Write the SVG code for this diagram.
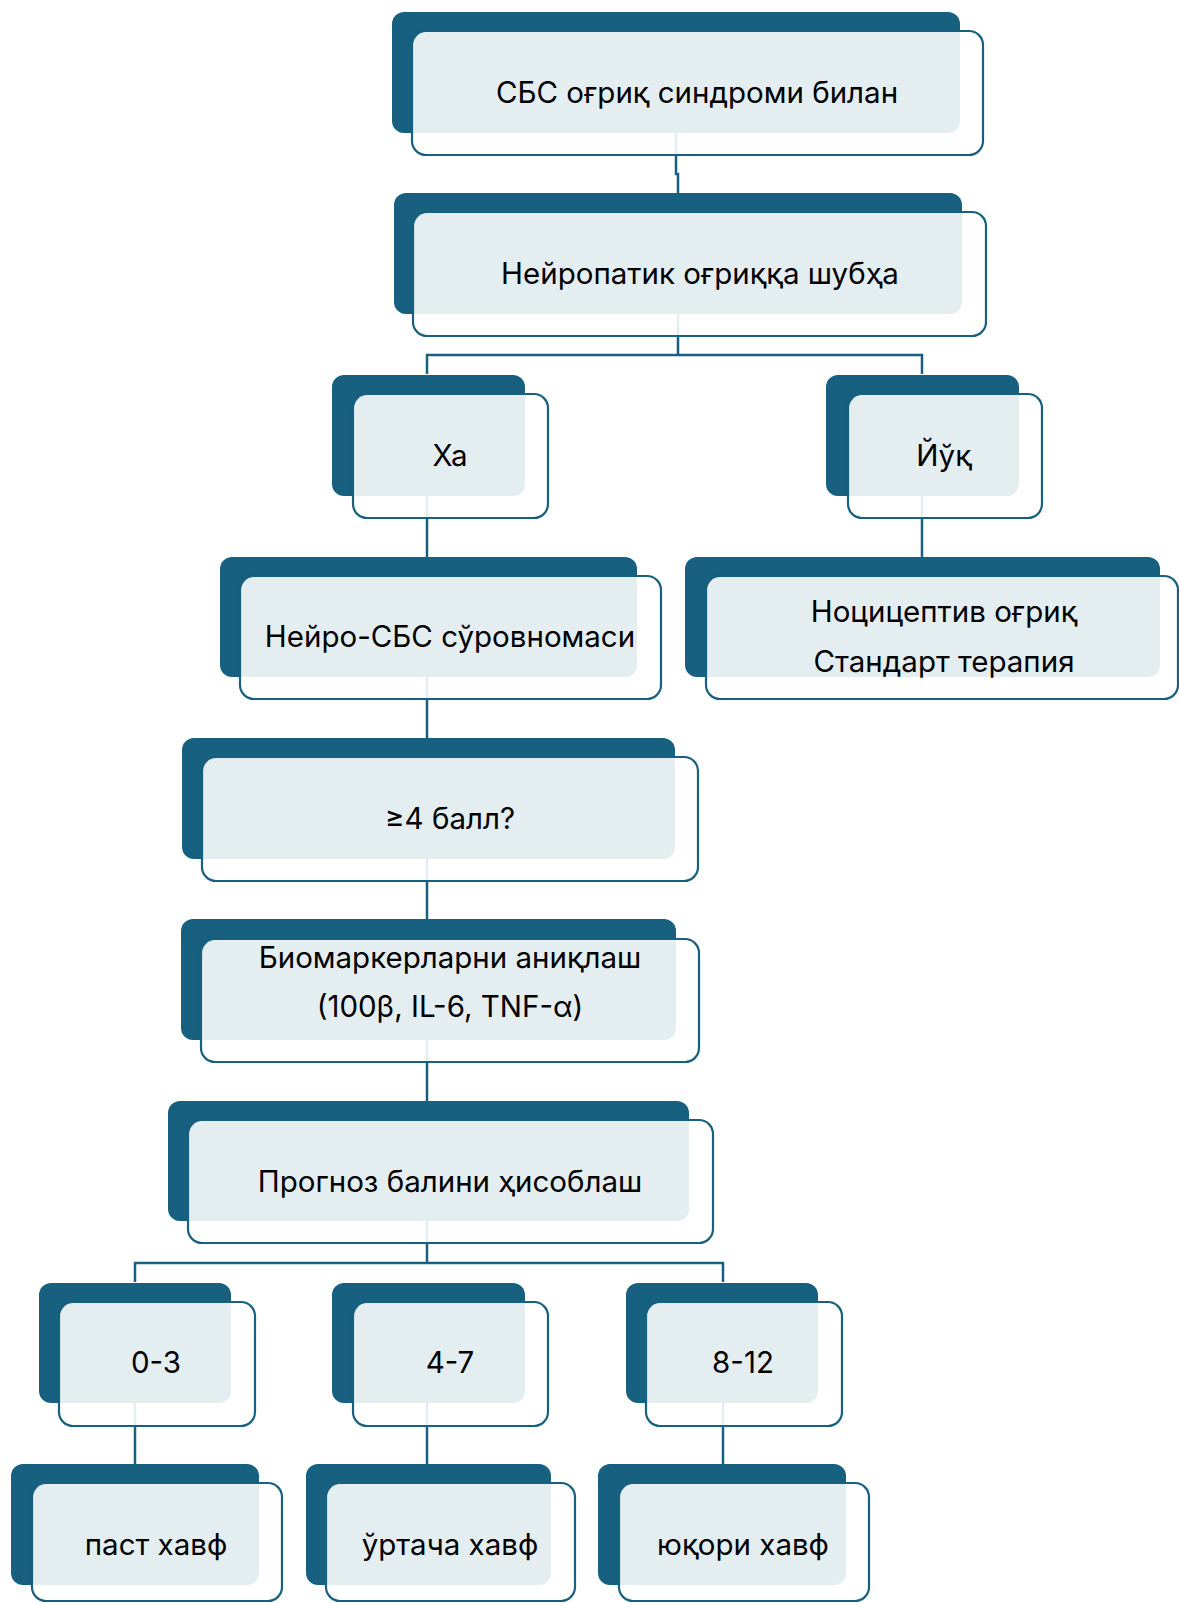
<svg xmlns="http://www.w3.org/2000/svg" width="1179" height="1603" viewBox="0 0 1179 1603">
<style>
.bk{fill:#17607f}
.fr{fill:#ffffff;fill-opacity:0.885;stroke:#17607f;stroke-width:2.2}
.cn{fill:none;stroke:#17607f;stroke-width:2.5}
.t{font-family:Inter,Roboto,sans-serif;font-size:29.5px;fill:#000;text-anchor:middle}
</style>
<rect width="1179" height="1603" fill="#fff"/>
<g id="connectors">
<path class="cn" d="M676 133 V174 H678 V193"/>
<path class="cn" d="M678 314 V355 M427 374 V355 H922 V374"/>
<path class="cn" d="M427 496 V557"/>
<path class="cn" d="M922 496 V557"/>
<path class="cn" d="M427 677 V738"/>
<path class="cn" d="M427 859 V919"/>
<path class="cn" d="M427 1040 V1101"/>
<path class="cn" d="M427 1221 V1263 M135 1282 V1263 H723 V1282"/>
<path class="cn" d="M135 1403 V1464"/>
<path class="cn" d="M427 1403 V1464"/>
<path class="cn" d="M723 1403 V1464"/>
</g>
<g id="n1"><rect class="bk" x="392" y="12" width="568" height="121" rx="12"/><rect class="fr" x="412" y="31" width="571" height="124" rx="14"/><text class="t" x="697" y="102.5">СБС оғриқ синдроми билан</text></g>
<g id="n2"><rect class="bk" x="394" y="193" width="568" height="121" rx="12"/><rect class="fr" x="413" y="212" width="573" height="124" rx="14"/><text class="t" x="700" y="283.5">Нейропатик оғриққа шубҳа</text></g>
<g id="n3"><rect class="bk" x="332" y="375" width="193" height="121" rx="12"/><rect class="fr" x="353" y="394" width="195" height="124" rx="14"/><text class="t" x="450" y="465.5">Ха</text></g>
<g id="n4"><rect class="bk" x="826" y="375" width="193" height="121" rx="12"/><rect class="fr" x="848" y="394" width="194" height="124" rx="14"/><text class="t" x="944" y="465.5">Йўқ</text></g>
<g id="n5"><rect class="bk" x="220" y="557" width="417" height="120" rx="12"/><rect class="fr" x="240" y="576" width="421" height="123" rx="14"/><text class="t" x="450" y="646.5">Нейро-СБС сўровномаси</text></g>
<g id="n6"><rect class="bk" x="685" y="557" width="475" height="120" rx="12"/><rect class="fr" x="706" y="576" width="472" height="123" rx="14"/><text class="t" x="944" y="621.5">Ноцицептив оғриқ</text><text class="t" x="944" y="671.5">Стандарт терапия</text></g>
<g id="n7"><rect class="bk" x="182" y="738" width="493" height="121" rx="12"/><rect class="fr" x="202" y="757" width="496" height="124" rx="14"/><text class="t" x="450" y="828.5">≥4 балл?</text></g>
<g id="n8"><rect class="bk" x="181" y="919" width="495" height="121" rx="12"/><rect class="fr" x="201" y="939" width="498" height="123" rx="14"/><text class="t" x="450" y="967.5">Биомаркерларни аниқлаш</text><text class="t" x="450" y="1016.5">(100β, IL-6, TNF-α)</text></g>
<g id="n9"><rect class="bk" x="168" y="1101" width="521" height="120" rx="12"/><rect class="fr" x="188" y="1120" width="525" height="123" rx="14"/><text class="t" x="450" y="1191.5">Прогноз балини ҳисоблаш</text></g>
<g id="n10"><rect class="bk" x="39" y="1283" width="192" height="120" rx="12"/><rect class="fr" x="59" y="1302" width="196" height="124" rx="14"/><text class="t" x="156" y="1372.5">0-3</text></g>
<g id="n11"><rect class="bk" x="332" y="1283" width="193" height="120" rx="12"/><rect class="fr" x="353" y="1302" width="195" height="124" rx="14"/><text class="t" x="450" y="1372.5">4-7</text></g>
<g id="n12"><rect class="bk" x="626" y="1283" width="192" height="120" rx="12"/><rect class="fr" x="646" y="1302" width="196" height="124" rx="14"/><text class="t" x="743" y="1372.5">8-12</text></g>
<g id="n13"><rect class="bk" x="11" y="1464" width="248" height="121" rx="12"/><rect class="fr" x="32" y="1483" width="250" height="118" rx="14"/><text class="t" x="156" y="1554.5">паст хавф</text></g>
<g id="n14"><rect class="bk" x="306" y="1464" width="245" height="121" rx="12"/><rect class="fr" x="326" y="1483" width="249" height="118" rx="14"/><text class="t" x="450" y="1554.5">ўртача хавф</text></g>
<g id="n15"><rect class="bk" x="598" y="1464" width="248" height="121" rx="12"/><rect class="fr" x="619" y="1483" width="250" height="118" rx="14"/><text class="t" x="743" y="1554.5">юқори хавф</text></g>
</svg>
